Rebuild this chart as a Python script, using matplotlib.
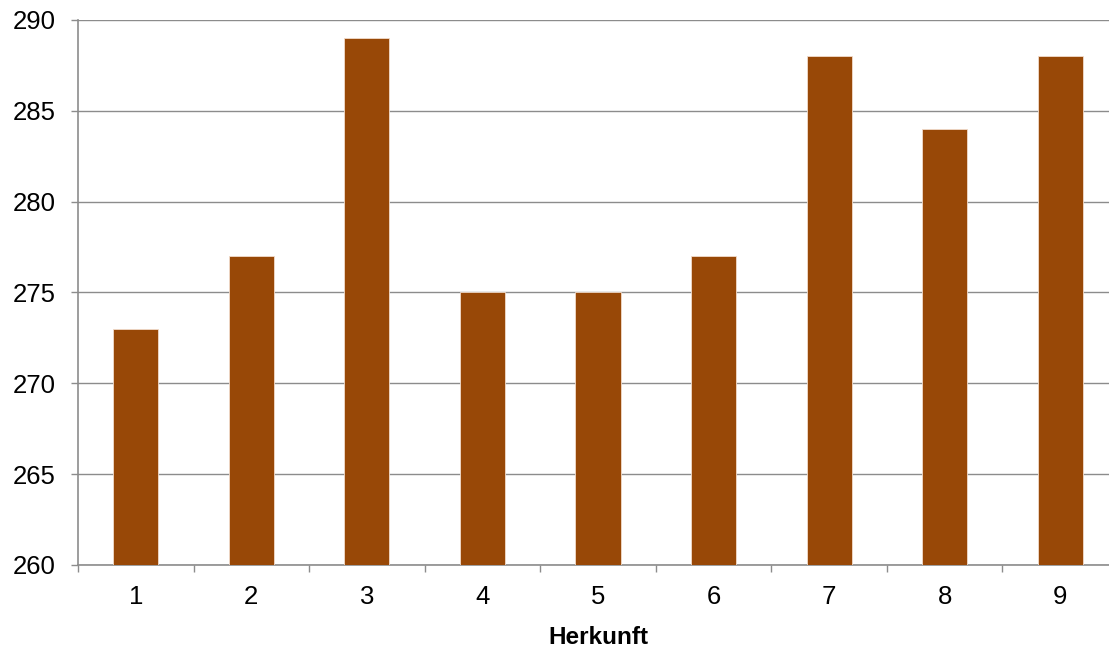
import matplotlib
matplotlib.use('Agg')
import matplotlib.pyplot as plt
import numpy as np

plt.rcParams['font.family'] = ['Liberation Sans', 'DejaVu Sans']

categories = ['1', '2', '3', '4', '5', '6', '7', '8', '9']
values = [273, 277, 289, 275, 275, 277, 288, 284, 288]
yticks = [260, 265, 270, 275, 280, 285, 290]

fig = plt.figure(figsize=(11.09, 6.48), dpi=100)
ax = fig.add_axes([78 / 1109, 1 - 565 / 648, 1040 / 1109, 545 / 648])

x = np.arange(1, len(categories) + 1)
ax.bar(x, values, width=0.39, color='#984807', edgecolor='#f2dccb', linewidth=0.6,
       zorder=3)

ax.set_xlim(0.5, len(categories) + 0.5)
ax.set_ylim(260, 290)
ax.set_yticks(yticks)
ax.set_yticklabels([str(v) for v in yticks])
ax.yaxis.grid(True, color='#8c8c8c', lw=1.0, zorder=0)

# category boundaries carry the tick marks, labels sit at the centres
ax.set_xticks(np.arange(0.5, len(categories) + 1, 1.0))
ax.set_xticklabels([])
ax.set_xticks(x, minor=True)
ax.set_xticklabels(categories, minor=True)
ax.tick_params(axis='x', which='major', length=5, color='#8c8c8c', width=1)
ax.tick_params(axis='x', which='minor', length=0, pad=14.5, labelsize=18.5)
ax.tick_params(axis='y', length=5, color='#8c8c8c', width=1, pad=11,
               labelsize=18.5)

for s in ('top', 'right'):
    ax.spines[s].set_visible(False)
for s in ('left', 'bottom'):
    ax.spines[s].set_color('#8c8c8c')
    ax.spines[s].set_linewidth(1.2)

fig.text(598 / 1109, 1 - 637 / 648, 'Herkunft', ha='center', va='center',
         fontsize=17.5, fontweight='bold')

fig.savefig('out.png', dpi=100)
